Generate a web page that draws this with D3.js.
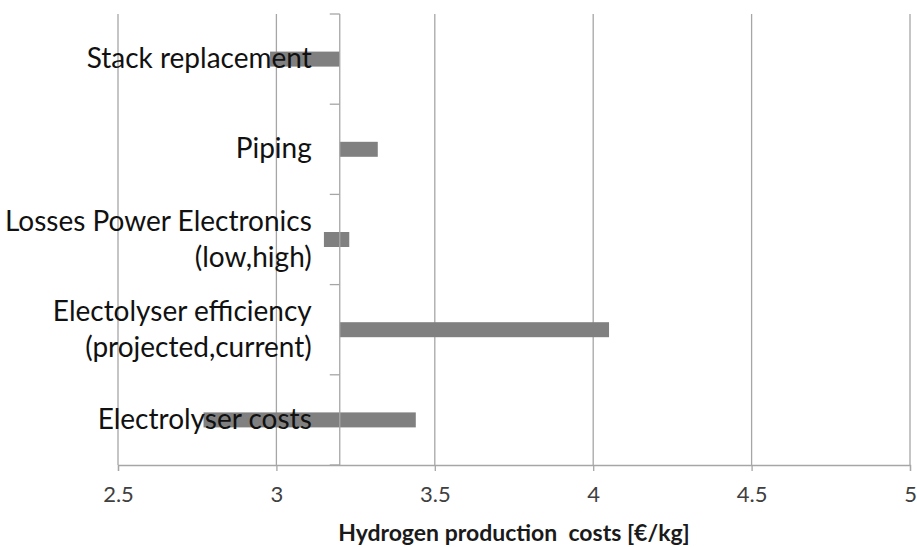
<!DOCTYPE html>
<html>
<head>
<meta charset="utf-8">
<script src="https://cdn.jsdelivr.net/npm/d3@7"></script>
<style>
  body { margin: 0; background: #fff; }
  text { font-family: Lato, "Open Sans", sans-serif; }
</style>
</head>
<body>
<svg id="chart" width="917" height="547"></svg>
<script>
// chart data
var categories = [
  ["Stack replacement"],
  ["Piping"],
  ["Losses Power Electronics", "(low,high)"],
  ["Electolyser efficiency", "(projected,current)"],
  ["Electrolyser costs"]
];
var lowValues  = [2.98, 3.20, 3.15, 3.20, 2.77];
var highValues = [3.20, 3.32, 3.23, 4.05, 3.44];
var baseValue = 3.2;
var xTicks = [2.5, 3, 3.5, 4, 4.5, 5];
var xTitle = "Hydrogen production  costs [€/kg]";

var svg = d3.select("#chart");

var margin = {top: 14, left: 118, right: 7, bottom: 82};
var width = 917 - margin.left - margin.right,
    height = 547 - margin.top - margin.bottom;

var g = svg.append("g")
  .attr("transform", "translate(" + margin.left + "," + margin.top + ")");

var x = d3.scaleLinear().domain([2.5, 5]).range([0, width]);
var y = d3.scaleBand()
  .domain(d3.range(categories.length))
  .range([0, height]);

var gridColor = "#a6a6a6";

// vertical gridlines
g.append("g").selectAll("line")
  .data(xTicks)
  .enter().append("line")
    .attr("x1", function(d) { return x(d); })
    .attr("x2", function(d) { return x(d); })
    .attr("y1", 0)
    .attr("y2", height)
    .attr("stroke", gridColor)
    .attr("stroke-width", 1.3);

// bottom axis
var xAxis = g.append("g")
  .attr("transform", "translate(0," + height + ")")
  .call(d3.axisBottom(x).tickValues(xTicks).tickSize(6).tickPadding(15)
    .tickFormat(d3.format("")));
xAxis.select(".domain").attr("stroke", gridColor).attr("stroke-width", 1.3);
xAxis.selectAll(".tick line").attr("stroke", gridColor).attr("stroke-width", 1.3);
xAxis.selectAll(".tick text")
  .attr("fill", "#404040")
  .style("font-size", "22px");

// bars
var rows = categories.map(function(c, i) {
  return {label: c, low: lowValues[i], high: highValues[i], i: i};
});
var barH = 15;
g.append("g").selectAll("rect")
  .data(rows)
  .enter().append("rect")
    .attr("x", function(d) { return x(d.low); })
    .attr("width", function(d) { return x(d.high) - x(d.low); })
    .attr("y", function(d) { return y(d.i) + y.bandwidth() / 2 - barH / 2; })
    .attr("height", barH)
    .attr("fill", "#808080");

// category axis at the base value
var base = g.append("g").attr("transform", "translate(" + x(baseValue) + ",0)");
base.append("line")
  .attr("y1", 0).attr("y2", height)
  .attr("stroke", gridColor).attr("stroke-width", 1.3);
base.selectAll(".ytick")
  .data(d3.range(categories.length + 1))
  .enter().append("line")
    .attr("class", "ytick")
    .attr("x1", -10).attr("x2", 0)
    .attr("y1", function(d) { return d * y.step(); })
    .attr("y2", function(d) { return d * y.step(); })
    .attr("stroke", gridColor).attr("stroke-width", 1.3);

// category labels (drawn over bars)
var lineH = 36;
var labels = g.append("g").selectAll("text")
  .data(rows)
  .enter().append("text")
    .attr("text-anchor", "end")
    .attr("fill", "#111")
    .style("font-size", "28px");
labels.selectAll("tspan")
  .data(function(d) {
    return d.label.map(function(t, k) { return {t: t, k: k, n: d.label.length, i: d.i}; });
  })
  .enter().append("tspan")
    .attr("x", x(baseValue) - 28)
    .attr("y", function(d) {
      return y(d.i) + y.bandwidth() / 2 + 9 + (d.k - (d.n - 1) / 2) * lineH;
    })
    .text(function(d) { return d.t; });

// axis title
svg.append("text")
  .attr("x", margin.left + width / 2)
  .attr("y", 541)
  .attr("text-anchor", "middle")
  .attr("font-weight", "bold")
  .attr("fill", "#1a1a1a")
  .style("font-size", "23px")
  .style("white-space", "pre")
  .text(xTitle);
</script>
</body>
</html>
